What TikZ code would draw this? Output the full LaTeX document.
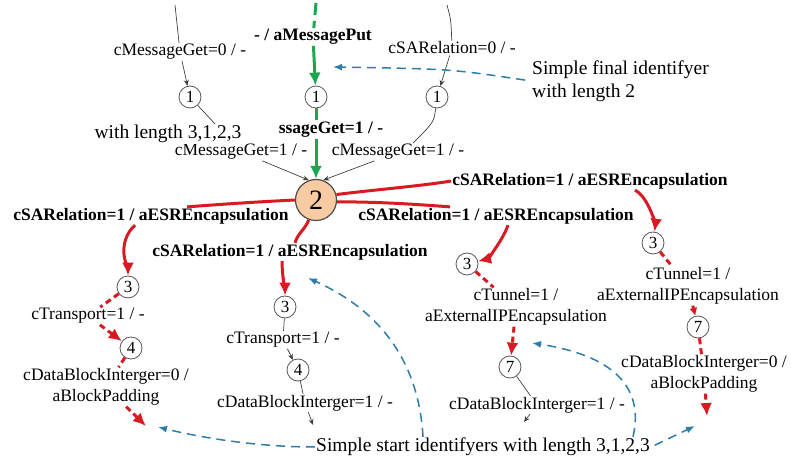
\documentclass[tikz,border=0pt]{standalone}
\usepackage{fontspec}
\setmainfont{Liberation Serif}
\usetikzlibrary{shapes,arrows.meta}
\definecolor{cBlue}{HTML}{2D7DA8}
\definecolor{cGreen}{HTML}{1CA64F}
\definecolor{cRed}{HTML}{DA1A22}
\definecolor{cPeach}{HTML}{F8CBA2}
\tikzset{
  lbl/.style={font=\fontsize{17.5}{21}\selectfont, fill=white, inner sep=1pt, align=center},
  blbl/.style={font=\bfseries\fontsize{17.5}{21}\selectfont, fill=white, inner sep=1pt},
  note/.style={font=\fontsize{19.5}{23}\selectfont, fill=white, inner sep=1pt, align=left},
  smallstate/.style={circle, draw=black!65, line width=0.8pt, fill=white, minimum size=22pt, inner sep=0pt, font=\fontsize{17}{17}\selectfont},
  redline/.style={cRed, line width=3pt},
  reddash/.style={cRed, line width=3pt, dash pattern=on 6pt off 4pt},
  greenline/.style={cGreen, line width=3pt},
  greendash/.style={cGreen, line width=3pt, dash pattern=on 12pt off 6pt},
  fine/.style={black!75, line width=0.7pt},
  bluedash/.style={cBlue, line width=1.5pt, dash pattern=on 9pt off 6pt},
  bigtip/.style={-{Latex[length=13pt,width=12pt]}},
  smalltip/.style={-{Latex[length=8pt,width=8pt]}},
  bluetip/.style={-{Latex[length=9pt,width=7pt]}},
  finetip/.style={-{Stealth[length=6pt,width=5pt]}},
}
\begin{document}
\begin{tikzpicture}[x=1pt,y=-1pt]
		\useasboundingbox (0,0) rectangle (795,462);
		% states
		\node[smallstate] (s1a) at (190,97) {1};
		\node[smallstate] (s1b) at (316,97) {1};
		\node[smallstate] (s1c) at (437,97) {1};
		\node[circle, draw=black!70, line width=1.2pt, fill=cPeach, minimum size=41pt, inner sep=0pt, font=\fontsize{28}{28}\selectfont] (s2) at (316,200) {2};
		\node[smallstate] (s3a) at (128,287) {3};
		\node[smallstate] (s4a) at (131,348) {4};
		\node[smallstate] (s3b) at (285,307) {3};
		\node[smallstate] (s4b) at (298,370) {4};
		\node[smallstate] (s3c) at (467,264) {3};
		\node[smallstate] (s7c) at (510,367) {7};
		\node[smallstate] (s3d) at (653,243) {3};
		\node[smallstate] (s7d) at (698,327) {7};
		% labels
		\node[lbl] (getZero) at (180,52) {cMessageGet=0 / -};
		\node[blbl] (msgPut) at (313,37) {- / aMessagePut};
		\node[lbl] (relZero) at (452,48) {cSARelation=0 / -};
		\node[blbl] (getOneMid) at (331,130) {ssageGet=1 / -};
		\node[lbl] (getOneL) at (241,152) {cMessageGet=1 / -};
		\node[lbl] (getOneR) at (398,152) {cMessageGet=1 / -};
		\node[blbl] (relA) at (151,216) {cSARelation=1 / aESREncapsulation};
		\node[blbl] (relB) at (590,181) {cSARelation=1 / aESREncapsulation};
		\node[blbl] (relC) at (496,216) {cSARelation=1 / aESREncapsulation};
		\node[blbl] (relD) at (290,252) {cSARelation=1 / aESREncapsulation};
		\node[lbl] (trA) at (88,316) {cTransport=1 / -};
		\node[lbl] (dbA) at (106,387) {cDataBlockInterger=0 /\\aBlockPadding};
		\node[lbl] (trB) at (283,340) {cTransport=1 / -};
		\node[lbl] (dbB) at (305,403) {cDataBlockInterger=1 / -};
		\node[lbl] (tnC) at (516,307) {cTunnel=1 /\\aExternalIPEncapsulation};
		\node[lbl] (dbC) at (537,405) {cDataBlockInterger=1 / -};
		\node[lbl] (tnD) at (688,286) {cTunnel=1 /\\aExternalIPEncapsulation};
		\node[lbl] (dbD) at (704,374) {cDataBlockInterger=0 /\\aBlockPadding};
		\node[note, anchor=west] (finalNote) at (531,81) {Simple final identifyer\\with length 2};
		\node[note] (startNote) at (483,447) {Simple start identifyers with length 3,1,2,3};
		% free ends
		\coordinate (kTopA) at (175,5);
		\coordinate (gTop) at (316,3);
		\coordinate (kTopC) at (447,5);
		\coordinate (endA) at (146,426);
		\coordinate (endB) at (313,425);
		\coordinate (endC) at (524,422);
		\coordinate (endD) at (707,416);
		\coordinate (tipFinal) at (333,67);
		\coordinate (tipA) at (158,427);
		\coordinate (tipB) at (308,278);
		\coordinate (tipC) at (532,343);
		\coordinate (tipD) at (695,426);
		% top part
		\draw [fine] (kTopA) -- (getZero);
		\draw [fine, finetip] (getZero) -- (s1a);
		\draw [fine] (s1a) -- (getOneL);
		\draw [fine, finetip] (getOneL) -- (s2.110);
		\draw [greendash] (gTop) -- (msgPut);
		\draw [greenline, bigtip] (msgPut) -- (s1b);
		\draw [greendash] (s1b) -- ([xshift=-15pt]getOneMid.north);
		\draw [greenline, bigtip] ([xshift=-15pt]getOneMid.south) -- (s2);
		\draw [fine] (kTopC) .. controls +(4,15) .. (relZero);
		\draw [fine, finetip] (relZero) -- (s1c);
		\draw [fine] (s1c) .. controls +(-3,25) .. ([xshift=15pt]getOneR.north);
		\draw [fine, finetip] (getOneR) -- (s2.70);
		% red fan out of 2
		\draw [redline] (s2.west) .. controls +(-40,2) and +(40,-3) .. ([xshift=36pt]relA.north);
		\draw [redline] (s2.250) .. controls +(-4,10) and +(3,-10) .. ([xshift=5pt]relD.north);
		\draw [redline] (s2.355) .. controls +(40,0) and +(-40,-3) .. ([xshift=-46pt]relC.north);
		\draw [redline] (s2.15) .. controls +(40,-5) and +(-30,5) .. (relB.west);
		\draw [redline, bigtip] ([xshift=-16pt]relA.south) .. controls +(-20,18) and +(0,-15) .. (s3a);
		\draw [redline, bigtip] ([xshift=-8pt]relD.south) .. controls +(0,12) and +(0,-12) .. (s3b);
		\draw [redline, bigtip] ([xshift=12pt]relC.south) .. controls +(-5,15) and +(20,-5) .. (s3c);
		\draw [redline, bigtip] ([xshift=45pt]relB.south) .. controls +(15,8) and +(2,-15) .. (s3d);
		% branch 1
		\draw [reddash] (s3a) -- (trA);
		\draw [reddash, bigtip] (trA) -- (s4a);
		\draw [reddash] (s4a) -- (dbA);
		\draw [reddash, bigtip] (dbA) -- (endA);
		% branch 2
		\draw [fine] (s3b) -- (trB);
		\draw [fine, finetip] (trB) -- (s4b);
		\draw [fine] (s4b) -- (dbB);
		\draw [fine, finetip] (dbB) -- (endB);
		% branch 3
		\draw [reddash] (s3c) -- (tnC);
		\draw [reddash, bigtip] (tnC) -- (s7c);
		\draw [fine] (s7c) -- (dbC);
		\draw [fine, finetip] (dbC) -- (endC);
		% branch 4
		\draw [reddash] (s3d) -- (tnD);
		\draw [redline, smalltip] (tnD) -- (s7d);
		\draw [reddash] (s7d) -- (dbD);
		\draw [reddash, bigtip] (dbD) -- (endD);
		% identifyer notes
		\draw [bluedash, bluetip, shorten <=6pt] (finalNote.west) .. controls +(-80,-12) .. (tipFinal);
		\draw [bluedash, bluetip] (startNote.west) .. controls +(-60,0) and +(40,10) .. (tipA);
		\draw [bluedash, bluetip] ([xshift=-60pt]startNote.north) .. controls +(-5,-87) and +(60,27) .. (tipB);
		\draw [bluedash, bluetip] ([xshift=150pt]startNote.north) .. controls +(12,-52) and +(78,12) .. (tipC);
		\draw [bluedash, bluetip, shorten <=4pt] (startNote.east) -- (tipD);
		\node[note] (lenNote) at (168,134) {with length 3,1,2,3};
\end{tikzpicture}
\end{document}
